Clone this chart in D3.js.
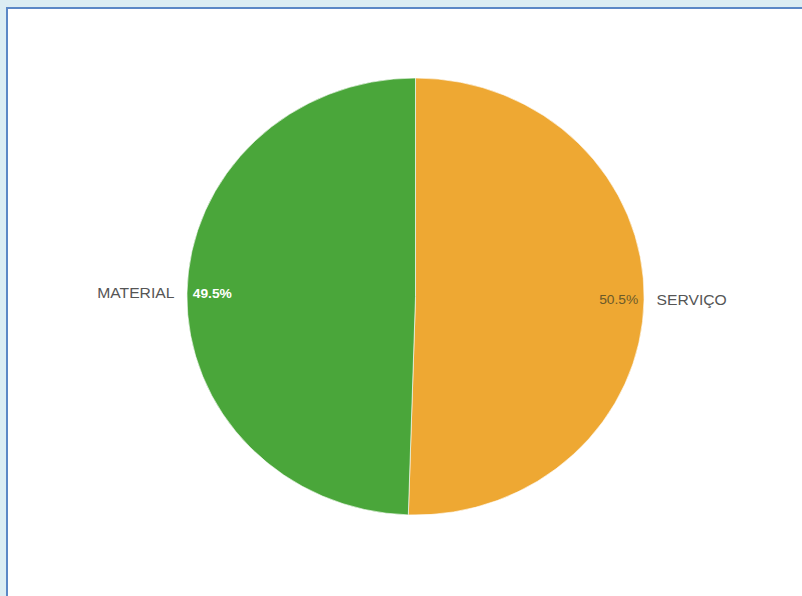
<!DOCTYPE html>
<html><head><meta charset="utf-8">
<script src="https://cdn.jsdelivr.net/npm/d3@7"></script>
<style>
html,body{margin:0;padding:0;background:#dbedf3;overflow:hidden;}
#frame{position:absolute;left:6px;top:7px;width:820px;height:620px;background:#fff;border:2px solid #5b88c6;box-sizing:border-box;}
svg{position:absolute;left:0;top:0;}
</style></head>
<body>
<div id="frame"></div>
<svg id="chart" width="802" height="596"></svg>
<script>
const categories = ["SERVIÇO", "MATERIAL"];
const values = [50.5, 49.5];
const colors = ["#eea833", "#4aa63a"];
const pctColors = ["#6b5a2a", "#ffffff"];

const svg = d3.select("#chart");
const sx0 = 1.046;
const cx = 415.5, cy = 296.5, r = 218.5;
const g = svg.append("g").attr("transform", `translate(${cx},${cy}) scale(${sx0},1)`);

const data = categories.map((c, i) => ({name: c, value: values[i], color: colors[i], pc: pctColors[i]}));
const pie = d3.pie().value(d => d.value).sort(null);
const arcs = pie(data);
const arc = d3.arc().innerRadius(0).outerRadius(r);

g.selectAll("path").data(arcs).join("path")
  .attr("d", arc)
  .attr("fill", d => d.data.color)
  .attr("stroke", "#fff")
  .attr("stroke-width", 0.6);

arcs.forEach(d => {
  const a = (d.startAngle + d.endAngle) / 2;
  const sx = Math.sin(a), sy = -Math.cos(a);
  const right = sx > 0;
  g.append("text")
    .attr("x", sx * (r - 5.5))
    .attr("y", sy * (r - 5.5))
    .attr("dy", "0.35em")
    .attr("text-anchor", right ? "end" : "start")
    .attr("font-family", "Liberation Sans, Arial, sans-serif")
    .attr("font-size", 13.2)
    .attr("font-weight", right ? "normal" : "bold")
    .attr("fill", d.data.pc)
    .text(d.data.value.toFixed(1) + "%");
  g.append("text")
    .attr("x", sx * (r + 12))
    .attr("y", sy * (r + 12))
    .attr("dy", "0.35em")
    .attr("text-anchor", right ? "start" : "end")
    .attr("font-family", "Liberation Sans, Arial, sans-serif")
    .attr("font-size", 15)
    .attr("fill", "#555")
    .text(d.data.name);
});
</script>
</body></html>
